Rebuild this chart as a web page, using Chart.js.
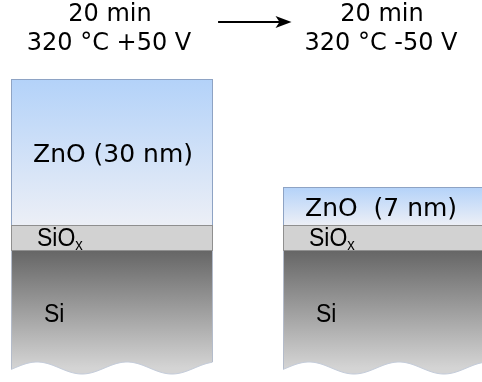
<!DOCTYPE html>
<html>
<head>
<meta charset="utf-8">
<script src="https://cdn.jsdelivr.net/npm/chart.js@4"></script>
<style>
  html, body { margin: 0; padding: 0; background: #fff; }
  #wrap { position: relative; width: 482px; height: 382px; }
</style>
</head>
<body>
<div id="wrap"><canvas id="stack"></canvas></div>
<script>
// two samples: after +50 V and after -50 V treatment
const samplePos = [0, 1]
const timeLabels = ['20 min', '20 min']
const treatLabels = ['320 °C +50 V', '320 °C -50 V']
const znoLabels = ['ZnO (30 nm)', 'ZnO  (7 nm)']

// layer bounds in drawing units, SiOx/ZnO interface = 0
const znoTop = [29.2, 7.6]
const sioxTop = [0, 0]
const sioxBottom = [-5.2, -5.2]
const siBottom = [-30.6, -30.6]
const siWaveLevel = [-28.6, -28.6]

// arrow between the two states (x in sample units, y in drawing units)
const arrowSpan = [0.39, 0.66]
const arrowLevel = 40.6

const floating = (lo, hi) => samplePos.map((x, i) => ({ x, y: [lo[i], hi[i]] }))

function vGradient(c, stops, fallback) {
  const chart = c.chart
  if (!chart.chartArea || !c.raw) return fallback
  const y = chart.scales.y
  const top = y.getPixelForValue(c.raw.y[1])
  let bottom = y.getPixelForValue(c.raw.y[0])
  if (c.datasetIndex === 0) bottom = y.getPixelForValue(siWaveLevel[c.dataIndex])
  const g = chart.ctx.createLinearGradient(0, top, 0, bottom)
  stops.forEach(([p, col]) => g.addColorStop(p, col))
  return g
}

// the sans labels in the source are a bit taller than wide
function tallText(ctx, text, px, py, size) {
  ctx.save()
  ctx.font = size + 'px "Liberation Sans"'
  ctx.translate(px, py)
  ctx.scale(1, 1.15)
  ctx.fillText(text, 0, 0)
  const w = ctx.measureText(text).width
  ctx.restore()
  return w
}

const layerDecor = {
  id: 'layerDecor',
  afterDatasetsDraw(chart) {
    const { ctx } = chart
    const y = chart.scales.y
    const siMeta = chart.getDatasetMeta(0)

    // wavy cut at the bottom of the substrate
    siMeta.data.forEach((bar, i) => {
      const left = bar.x - bar.width / 2
      const right = bar.x + bar.width / 2
      const mid = y.getPixelForValue(siWaveLevel[i])
      const waveY = px => mid - 6 * Math.cos(2 * Math.PI * (px - left - 26) / 90)
      ctx.save()
      ctx.beginPath()
      ctx.moveTo(left - 2, waveY(left - 2))
      for (let px = left - 2; px <= right + 2; px++) ctx.lineTo(px, waveY(px))
      ctx.lineTo(right + 2, chart.height + 2)
      ctx.lineTo(left - 2, chart.height + 2)
      ctx.closePath()
      ctx.fillStyle = '#fff'
      ctx.fill()
      ctx.beginPath()
      ctx.moveTo(left, waveY(left))
      for (let px = left; px <= right; px++) ctx.lineTo(px, waveY(px))
      ctx.strokeStyle = '#c4ccda'
      ctx.lineWidth = 1
      ctx.stroke()
      ctx.restore()
    })

    // layer names
    ctx.save()
    ctx.fillStyle = '#000'
    ctx.textAlign = 'left'
    ctx.textBaseline = 'alphabetic'
    siMeta.data.forEach((bar, i) => {
      const left = bar.x - bar.width / 2
      const znoMid = (y.getPixelForValue(znoTop[i]) + y.getPixelForValue(sioxTop[i])) / 2
      ctx.font = '25px "DejaVu Sans"'
      ctx.fillText(znoLabels[i], left + 22, znoMid + 9.5)

      const oxMid = (y.getPixelForValue(sioxTop[i]) + y.getPixelForValue(sioxBottom[i])) / 2
      const w = tallText(ctx, 'SiO', left + 26, oxMid + 7.5, 23)
      tallText(ctx, 'x', left + 26 + w, oxMid + 11.5, 15)

      const siMid = (y.getPixelForValue(sioxBottom[i]) + y.getPixelForValue(siWaveLevel[i])) / 2
      tallText(ctx, 'Si', left + 33, siMid + 12, 23)
    })
    ctx.restore()
  },
  afterDraw(chart) {
    const { ctx } = chart
    const x = chart.scales.x
    const y = chart.scales.y
    const bars = chart.getDatasetMeta(0).data

    // treatment conditions above each stack
    ctx.save()
    ctx.fillStyle = '#000'
    ctx.textAlign = 'center'
    ctx.textBaseline = 'alphabetic'
    ctx.font = '24px "DejaVu Sans"'
    bars.forEach((bar, i) => {
      ctx.fillText(timeLabels[i], bar.x - 2, 21)
      ctx.fillText(treatLabels[i], bar.x - 3, 50)
    })

    // arrow
    const x0 = x.getPixelForValue(arrowSpan[0])
    const x1 = x.getPixelForValue(arrowSpan[1])
    const ay = y.getPixelForValue(arrowLevel)
    ctx.strokeStyle = '#000'
    ctx.lineWidth = 2
    ctx.beginPath()
    ctx.moveTo(x0, ay)
    ctx.lineTo(x1 - 10, ay)
    ctx.stroke()
    ctx.fillStyle = '#000'
    ctx.beginPath()
    ctx.moveTo(x1, ay)
    ctx.lineTo(x1 - 16, ay - 6)
    ctx.lineTo(x1 - 12, ay)
    ctx.lineTo(x1 - 16, ay + 6)
    ctx.closePath()
    ctx.fill()
    ctx.restore()
  }
}

new Chart(document.getElementById('stack'), {
  type: 'bar',
  data: {
    datasets: [
      {
        label: 'Si',
        data: floating(siBottom, sioxBottom),
        backgroundColor: c => vGradient(c, [[0, '#666666'], [1, '#d4d4d4']], '#999'),
        borderColor: '#b4bccb',
        borderWidth: { left: 1, right: 1, top: 0, bottom: 0 },
        borderSkipped: false,
      },
      {
        label: 'SiOx',
        data: floating(sioxBottom, sioxTop),
        backgroundColor: '#d2d2d2',
        borderColor: '#8f8f8f',
        borderWidth: { left: 1, right: 1, top: 1, bottom: 1 },
        borderSkipped: false,
      },
      {
        label: 'ZnO',
        data: floating(sioxTop, znoTop),
        backgroundColor: c => vGradient(c, [[0, '#b3d2f9'], [1, '#eceff6']], '#d0e0f6'),
        borderColor: '#8ea3c4',
        borderWidth: { left: 1, right: 1, top: 1, bottom: 0 },
        borderSkipped: false,
      },
    ],
  },
  options: {
    responsive: true,
    maintainAspectRatio: false,
    animation: false,
    events: [],
    layout: { padding: 0 },
    datasets: {
      bar: { grouped: false, categoryPercentage: 0.7426, barPercentage: 1 },
    },
    plugins: {
      legend: { display: false },
      tooltip: { enabled: false },
    },
    scales: {
      x: {
        type: 'linear',
        offset: false,
        min: -0.4118,
        max: 1.3603,
        display: false,
        afterBuildTicks: scale => { scale.ticks = samplePos.map(v => ({ value: v })) },
      },
      y: {
        min: -31.4,
        max: 45,
        display: false,
      },
    },
  },
  plugins: [layerDecor],
})
</script>
</body>
</html>
